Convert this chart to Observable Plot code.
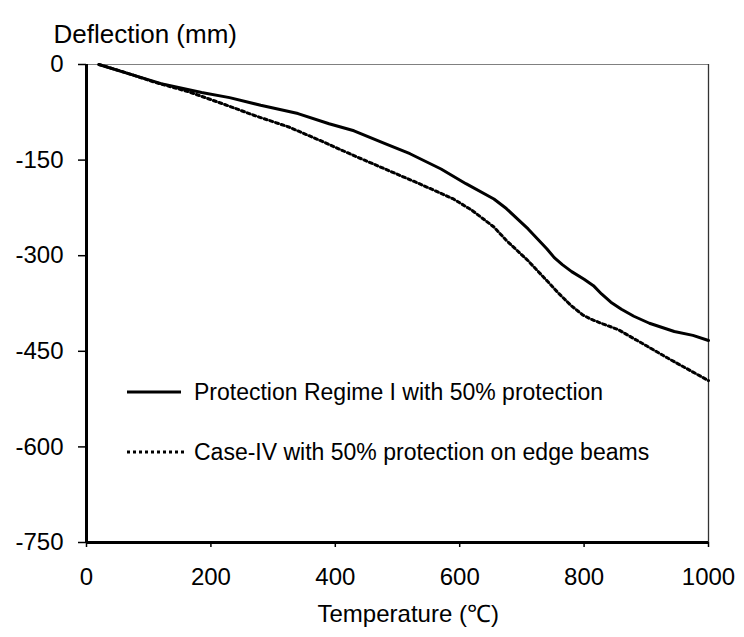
<!DOCTYPE html>
<html>
<head>
<meta charset="utf-8">
<script src="https://cdn.jsdelivr.net/npm/d3@7"></script>
<script src="https://cdn.jsdelivr.net/npm/@observablehq/plot@0.6"></script>
<style>
  body { margin: 0; background: #fff; }
  svg { font-family: "Liberation Sans", Arial, Helvetica, sans-serif; }
</style>
</head>
<body>
<div id="chart"></div>
<script>
// Mid-span deflection of the floor against steel temperature
const regimeTemp = [20, 70, 120, 185, 230, 280, 340, 390, 430, 480, 520, 570, 610, 655, 675, 710, 740, 752, 765, 780, 800, 815, 828, 843, 860, 880, 905, 945, 975, 1000];
const regimeDefl = [0, -15, -30, -44, -52, -64, -77, -93, -104, -124, -140, -164, -187, -211, -226, -258, -289, -303, -314, -325, -337, -347, -360, -373, -384, -395, -406, -419, -425, -433];

const caseTemp = [20, 70, 110, 165, 220, 270, 325, 375, 430, 480, 535, 590, 620, 655, 675, 710, 740, 760, 780, 798, 812, 830, 855, 935, 1000];
const caseDefl = [0, -15, -28, -43, -62, -80, -98, -119, -143, -164, -187, -211, -229, -255, -276, -308, -339, -360, -379, -393, -400, -407, -416, -461, -496];

const seriesNames = ["Protection Regime I with 50% protection", "Case-IV with 50% protection on edge beams"];
const xTicks = [0, 200, 400, 600, 800, 1000];
const yTicks = [0, -150, -300, -450, -600, -750];
const xTitle = "Temperature (℃)";
const yTitle = "Deflection (mm)";

const regime = regimeTemp.map((t, i) => ({t, d: regimeDefl[i]}));
const caseIV = caseTemp.map((t, i) => ({t, d: caseDefl[i]}));

const dotted = "3 3";
const dotWidth = 3;
const plain = d => String(d);

const chart = Plot.plot({
  width: 744,
  height: 637,
  marginLeft: 86,
  marginRight: 36,
  marginTop: 64,
  marginBottom: 95,
  style: {fontFamily: '"Liberation Sans", Arial, sans-serif', fontSize: "24px", color: "#000", background: "#fff"},
  x: {domain: [0, 1000]},
  y: {domain: [-750, 0]},
  marks: [
    Plot.ruleY([0], {stroke: "#808080", strokeWidth: 1.2}),
    Plot.ruleX([1000], {stroke: "#333", strokeWidth: 1.3}),
    Plot.axisY(yTicks, {tickSize: 8, tickPadding: 15, fontSize: 24, label: null, strokeWidth: 1.5, tickFormat: plain}),
    Plot.axisX(xTicks, {tickSize: 5, tickPadding: 20, fontSize: 24, label: null, strokeWidth: 1.5, tickFormat: plain}),
    Plot.ruleX([0], {stroke: "#000", strokeWidth: 3}),
    Plot.ruleY([-750], {stroke: "#000", strokeWidth: 3}),
    Plot.line(caseIV, {x: "t", y: "d", stroke: "#000", strokeWidth: dotWidth, strokeDasharray: dotted}),
    Plot.line(regime, {x: "t", y: "d", stroke: "#000", strokeWidth: 3}),
    Plot.text([yTitle], {frameAnchor: "top-left", textAnchor: "start", dx: -33, dy: -40, fontSize: 26, fill: "#000"}),
    Plot.text([xTitle], {frameAnchor: "bottom-left", textAnchor: "start", dx: 231, dy: 79, fontSize: 24, fill: "#000"})
  ]
});

document.getElementById("chart").append(chart);

// Legend inside the plotting area
const svg = d3.select(chart);
const legend = svg.append("g")
  .attr("font-size", 23)
  .attr("fill", "#000")
  .attr("text-anchor", "start");
const legendRows = [
  {name: seriesNames[0], y: 392, x2: 181, dash: null, width: 3},
  {name: seriesNames[1], y: 452, x2: 187, dash: dotted, width: dotWidth}
];
legendRows.forEach(r => {
  legend.append("line")
    .attr("x1", 127).attr("x2", r.x2)
    .attr("y1", r.y).attr("y2", r.y)
    .attr("stroke", "#000").attr("stroke-width", r.width)
    .attr("stroke-dasharray", r.dash);
  legend.append("text")
    .attr("x", 194).attr("y", r.y).attr("dy", "0.35em")
    .attr("text-anchor", "start")
    .text(r.name);
});
</script>
</body>
</html>
